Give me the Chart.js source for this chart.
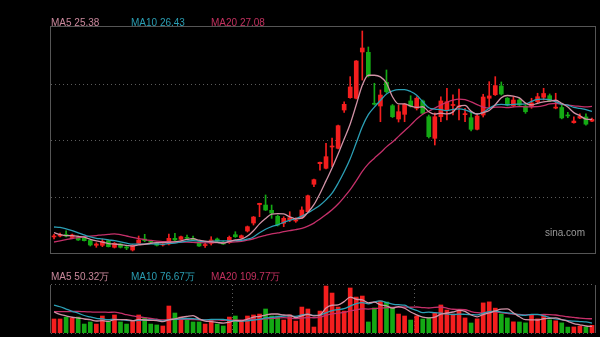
<!DOCTYPE html>
<html>
<head>
<meta charset="utf-8">
<script src="https://cdn.jsdelivr.net/npm/chart.js@4"></script>
<style>
  html, body { margin: 0; padding: 0; background: #000; }
  #wrap { position: relative; width: 600px; height: 337px; overflow: hidden; font-family: "Liberation Sans", Arial, sans-serif; }
  canvas { position: absolute; left: 0; }
  #kline { top: 0; }
  #vol { top: 260px; }
  .legend { position: absolute; font-size: 10px; line-height: 10px; white-space: nowrap; }
  #mark { position: absolute; left: 545px; top: 228px; font-size: 10px; line-height: 10px; color: #9a9a9a; }
</style>
</head>
<body>
<div id="wrap">
  <canvas id="kline" width="600" height="260"></canvas>
  <canvas id="vol" width="600" height="77"></canvas>
  <div class="legend" id="p5" style="left:51px; top:17.5px;"></div>
  <div class="legend" id="p10" style="left:131px; top:17.5px;"></div>
  <div class="legend" id="p20" style="left:211px; top:17.5px;"></div>
  <div class="legend" id="v5" style="left:51px; top:271.5px;"></div>
  <div class="legend" id="v10" style="left:131px; top:271.5px;"></div>
  <div class="legend" id="v20" style="left:211px; top:271.5px;"></div>
  <div id="mark">sina.com</div>
</div>
<script>
// daily candles, oldest first
const open = [
  10.09, 10.21, 10.40, 10.02, 10.12, 9.91, 9.63, 9.00, 9.00, 9.60,
  8.74, 9.17, 8.74, 8.39, 9.26, 9.82, 9.50, 9.34, 9.04, 9.17,
  9.91, 9.78, 10.04, 9.91, 9.34, 8.97, 9.26, 9.82, 9.41, 9.34,
  10.38, 9.99, 10.86, 11.90, 14.30, 14.24, 13.55, 12.77, 11.86, 12.29,
  12.16, 12.59, 13.37, 16.94, 19.62, 19.02, 21.79, 21.62, 26.60, 28.21,
  28.13, 34.15, 34.11, 27.45, 27.12, 30.21, 27.16, 25.43, 26.04, 27.78,
  26.82, 27.78, 25.73, 22.92, 25.73, 26.60, 27.19, 27.00, 26.00, 25.60,
  24.09, 25.95, 28.13, 28.59, 29.73, 28.13, 27.16, 27.90, 27.12, 27.03,
  27.68, 28.26, 28.46, 26.85, 26.93, 25.93, 24.95, 25.55, 25.70, 25.15
];
const close = [
  10.18, 10.40, 10.21, 10.35, 9.69, 9.60, 9.04, 9.17, 9.52, 8.82,
  9.26, 8.74, 8.65, 9.00, 9.69, 9.60, 9.41, 9.00, 9.17, 9.91,
  9.69, 10.12, 9.91, 9.69, 8.91, 9.08, 9.69, 9.52, 9.17, 10.04,
  10.12, 10.25, 11.42, 12.68, 14.46, 13.59, 13.20, 11.64, 12.51, 12.59,
  12.29, 13.59, 15.45, 17.54, 19.80, 20.53, 21.92, 24.56, 27.34, 29.60,
  32.98, 34.67, 31.03, 27.35, 28.55, 28.98, 25.73, 26.38, 27.34, 27.12,
  28.13, 26.17, 23.13, 25.73, 27.78, 27.68, 27.32, 27.10, 26.08, 24.09,
  25.82, 28.29, 28.43, 29.78, 28.68, 27.25, 27.90, 27.25, 26.38, 27.52,
  28.33, 28.75, 27.80, 26.95, 25.57, 25.83, 25.17, 25.76, 24.76, 25.38
];
const high = [
  10.43, 10.60, 10.90, 10.47, 10.21, 10.12, 9.69, 9.34, 9.78, 9.69,
  9.37, 9.24, 8.95, 9.11, 10.21, 10.43, 9.63, 9.43, 9.24, 10.47,
  10.56, 10.21, 10.34, 10.21, 9.50, 9.34, 10.12, 9.95, 9.56, 10.21,
  10.77, 10.34, 11.51, 12.75, 14.48, 15.55, 14.24, 12.94, 12.72, 13.37,
  12.59, 14.02, 15.55, 17.63, 19.84, 22.27, 22.96, 24.65, 27.68, 30.94,
  33.04, 36.88, 34.80, 30.08, 29.21, 31.81, 27.32, 27.25, 27.45, 28.46,
  28.33, 27.90, 25.95, 26.21, 28.33, 29.43, 28.56, 29.33, 26.82, 26.38,
  26.08, 28.65, 30.29, 30.94, 30.25, 28.23, 28.33, 28.13, 27.29, 28.13,
  28.78, 29.43, 28.69, 28.78, 27.25, 26.30, 25.70, 26.10, 26.10, 25.55
];
const low = [
  9.82, 10.08, 10.08, 9.95, 9.63, 9.56, 8.91, 8.74, 8.82, 8.78,
  8.65, 8.65, 8.43, 8.26, 9.17, 9.47, 9.30, 8.91, 8.91, 9.04,
  9.60, 9.69, 9.76, 9.63, 8.85, 8.74, 9.04, 9.43, 9.11, 9.24,
  10.02, 9.89, 10.73, 11.64, 12.72, 13.53, 12.51, 11.51, 11.42, 12.07,
  11.99, 12.51, 13.33, 16.63, 18.79, 18.93, 19.23, 21.53, 26.30, 28.13,
  28.04, 30.50, 30.90, 27.25, 25.08, 28.82, 25.62, 25.04, 25.08, 26.99,
  26.60, 26.08, 22.96, 22.05, 25.08, 25.30, 25.95, 25.30, 25.08, 23.87,
  24.00, 25.69, 26.99, 28.49, 28.55, 27.12, 26.99, 27.03, 26.17, 26.82,
  27.47, 27.90, 27.70, 26.75, 25.45, 25.60, 24.90, 25.48, 24.62, 25.08
];
// volume in 万 shares
const volume = [
  108, 108, 123, 116, 123, 69, 85, 69, 131, 92,
  139, 85, 69, 92, 139, 116, 69, 62, 54, 208,
  154, 123, 100, 85, 85, 69, 100, 69, 54, 123,
  131, 92, 131, 139, 146, 185, 131, 131, 100, 139,
  92, 200, 185, 46, 169, 362, 308, 200, 169, 347,
  277, 285, 85, 193, 246, 239, 193, 146, 131, 100,
  131, 108, 116, 154, 216, 177, 146, 177, 116, 77,
  109, 232, 240, 191.7, 147, 116, 86, 85, 78, 144,
  109.0, 132.5, 101.6, 94.0, 78.0, 45.5, 46.8, 53.2, 47.0, 59.1
];
// the 19 sessions before the window, needed to seed the averages
const priorClose = [7.2, 7.3, 7.3, 7.4, 7.4, 7.5, 7.5, 7.6, 7.7, 7.9, 11.0, 12.0, 12.6, 12.7, 12.3, 11.6, 10.9, 10.4, 10.12];
const priorVolume = [100, 105, 110, 108, 115, 112, 118, 120, 116, 120, 240, 300, 290, 270, 246, 200, 180, 170, 152];

const maPeriods = [5, 10, 20];
const priceRange = [8, 37.4];
const volumeRange = [0, 370];

const RED = '#f41e1e';
const GREEN = '#14a914';
const maLine = ['#d192a6', '#2b9fb5', '#c5306a'];
const maText = ['#c9879b', '#2a9db2', '#c2305e'];
const FRAME = '#555555';
const DOTS = '#5c5c5c';

function movingAverage(values, prior, n) {
  const all = prior.concat(values);
  return values.map((_, i) => {
    const end = prior.length + i + 1;
    return all.slice(end - n, end).reduce((a, b) => a + b, 0) / n;
  });
}

const labels = close.map((_, i) => i);
const upDown = close.map((c, i) => (c >= open[i] ? RED : GREEN));
const priceMA = maPeriods.map(n => movingAverage(close, priorClose, n));
const volumeMA = maPeriods.map(n => movingAverage(volume, priorVolume, n));

maPeriods.forEach((n, k) => {
  const p = document.getElementById('p' + n);
  p.textContent = 'MA' + n + ' ' + priceMA[k][priceMA[k].length - 1].toFixed(2);
  p.style.color = maText[k];
  const v = document.getElementById('v' + n);
  v.textContent = 'MA' + n + ' ' + volumeMA[k][volumeMA[k].length - 1].toFixed(2) + '万';
  v.style.color = maText[k];
});

function dotted(ctx, x1, y1, x2, y2) {
  ctx.save();
  ctx.strokeStyle = DOTS;
  ctx.lineWidth = 1;
  ctx.setLineDash([1, 3]);
  ctx.beginPath();
  ctx.moveTo(x1, y1);
  ctx.lineTo(x2, y2);
  ctx.stroke();
  ctx.restore();
}

function solid(ctx, x1, y1, x2, y2) {
  ctx.save();
  ctx.strokeStyle = FRAME;
  ctx.lineWidth = 1;
  ctx.beginPath();
  ctx.moveTo(x1, y1);
  ctx.lineTo(x2, y2);
  ctx.stroke();
  ctx.restore();
}

// frame and dotted quarter lines behind the candles
const klineFrame = {
  id: 'klineFrame',
  beforeDatasetsDraw(chart) {
    const { ctx, chartArea: a, scales } = chart;
    const y = scales.y;
    const step = (priceRange[1] - priceRange[0]) / 4;
    for (let k = 1; k < 4; k++) {
      const py = Math.round(y.getPixelForValue(priceRange[0] + k * step)) + 0.5;
      dotted(ctx, a.left, py, a.right, py);
    }
    ctx.save();
    ctx.strokeStyle = FRAME;
    ctx.strokeRect(a.left - 0.5, a.top - 0.5, a.right - a.left + 1, a.bottom - a.top + 1);
    ctx.restore();
  }
};

// volume panel: dotted top/bottom edges and a marker every 30 sessions
const volumeFrame = {
  id: 'volumeFrame',
  beforeDatasetsDraw(chart) {
    const { ctx, chartArea: a, scales } = chart;
    const x = scales.x;
    dotted(ctx, a.left, a.top - 0.5, a.right, a.top - 0.5);
    dotted(ctx, a.left, a.bottom + 0.5, a.right, a.bottom + 0.5);
    solid(ctx, a.left - 0.5, a.top, a.left - 0.5, a.bottom);
    solid(ctx, a.right + 0.5, a.top, a.right + 0.5, a.bottom);
    [30, 60].forEach(i => {
      const px = Math.round((x.getPixelForValue(i - 1) + x.getPixelForValue(i)) / 2) + 0.5;
      dotted(ctx, px, a.top, px, a.bottom);
    });
  }
};

function maDatasets(series, yAxis) {
  return series.map((data, k) => ({
    type: 'line',
    data,
    yAxisID: yAxis,
    borderColor: maLine[k],
    borderWidth: 1.3,
    pointRadius: 0,
    cubicInterpolationMode: 'monotone',
    order: 1
  }));
}

function baseOptions(yMin, yMax, padding) {
  return {
    responsive: false,
    animation: false,
    layout: { padding },
    plugins: { legend: { display: false }, tooltip: { enabled: false } },
    scales: {
      x: { display: false, offset: true },
      y: { display: false, min: yMin, max: yMax }
    }
  };
}

new Chart(document.getElementById('kline'), {
  type: 'bar',
  data: {
    labels,
    datasets: [
      {
        data: labels.map(i => [low[i], high[i]]),
        backgroundColor: upDown,
        barThickness: 1,
        grouped: false,
        order: 3
      },
      {
        data: labels.map(i => [open[i], close[i]]),
        backgroundColor: upDown,
        barThickness: 4,
        minBarLength: 1,
        grouped: false,
        order: 2
      },
      ...maDatasets(priceMA, 'y')
    ]
  },
  options: baseOptions(priceRange[0], priceRange[1], { left: 51, top: 27, right: 5, bottom: 7 }),
  plugins: [klineFrame]
});

new Chart(document.getElementById('vol'), {
  type: 'bar',
  data: {
    labels,
    datasets: [
      {
        data: volume,
        backgroundColor: upDown,
        barThickness: 4,
        order: 2
      },
      ...maDatasets(volumeMA, 'y')
    ]
  },
  options: baseOptions(volumeRange[0], volumeRange[1], { left: 51, top: 25, right: 5, bottom: 4 }),
  plugins: [volumeFrame]
});
</script>
</body>
</html>
